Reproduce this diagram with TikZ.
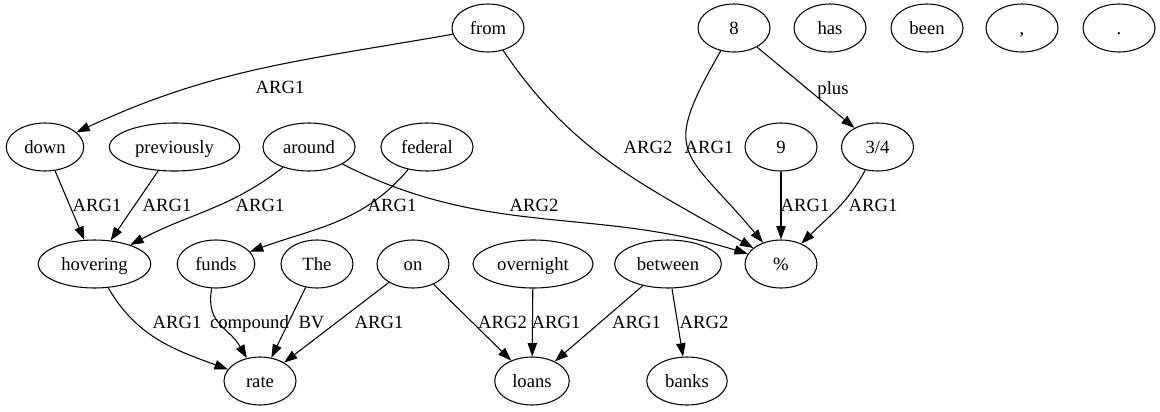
\documentclass[tikz,border=0pt]{standalone}
\usepackage{fontspec}
\setmainfont{Liberation Serif}
\usetikzlibrary{shapes, arrows.meta}

\begin{document}
\begin{tikzpicture}[x=0.75pt, y=0.75pt,
        word/.style={ellipse, draw=black, line width=0.8pt, inner xsep=5pt, minimum width=54pt, minimum height=36pt, text height=11pt, text depth=2pt, font=\fontsize{14}{16}\selectfont},
        lbl/.style={inner sep=0pt, text height=11pt, text depth=2pt, font=\fontsize{14}{16}\selectfont},
        rel/.style={line width=0.8pt, -{Triangle[length=10pt, width=7pt]}}]
            \useasboundingbox (0, 0) rectangle (1160, -411);

            \node[word] (from) at (488, -28) {from};
            \node[word] (eight) at (734, -28) {8};
            \node[word] (has) at (830, -28) {has};
            \node[word] (been) at (927, -28) {been};
            \node[word] (comma) at (1022, -28) {,};
            \node[word] (period) at (1119, -28) {.};
            \node[word] (down) at (45, -147) {down};
            \node[word] (previously) at (174.5, -147) {previously};
            \node[word] (around) at (309, -147) {around};
            \node[word] (federal) at (427, -147) {federal};
            \node[word] (nine) at (781, -147) {9};
            \node[word] (quarter) at (877.5, -147) {3/4};
            \node[word] (hovering) at (94.5, -264) {hovering};
            \node[word] (funds) at (216, -264) {funds};
            \node[word] (the) at (317, -264) {The};
            \node[word] (on) at (413, -264) {on};
            \node[word] (overnight) at (533, -264) {overnight};
            \node[word] (between) at (668, -264) {between};
            \node[word] (pct) at (781, -264) {\%};
            \node[word] (rate) at (260, -381) {rate};
            \node[word] (loans) at (532, -381) {loans};
            \node[word] (banks) at (687, -381) {banks};

            \node[lbl] (e1) at (280, -87) {ARG1};
            \node[lbl] (e2) at (648, -147) {ARG2};
            \node[lbl] (e3) at (709, -147) {ARG1};
            \node[lbl] (e4) at (833, -88) {plus};
            \node[lbl] (e5) at (97, -205) {ARG1};
            \node[lbl] (e6) at (167, -205) {ARG1};
            \node[lbl] (e7) at (260, -205) {ARG1};
            \node[lbl] (e8) at (392, -205) {ARG1};
            \node[lbl] (e9) at (534, -205) {ARG2};
            \node[lbl] (e10) at (805, -205) {ARG1};
            \node[lbl] (e11) at (873, -205) {ARG1};
            \node[lbl] (e12) at (177, -322) {ARG1};
            \node[lbl] (e13) at (249.5, -322) {compound};
            \node[lbl] (e14) at (311.5, -322) {BV};
            \node[lbl] (e15) at (379, -322) {ARG1};
            \node[lbl] (e16) at (502.5, -322) {ARG2};
            \node[lbl] (e17) at (556, -322) {ARG1};
            \node[lbl] (e18) at (636.5, -322) {ARG1};
            \node[lbl] (e19) at (704, -322) {ARG2};

            \draw[rel] (from) to[out=190, in=25] (down);
            \draw[rel] (from) to[out=-56, in=150] (pct);
            \draw[rel] (eight) to[out=-120, in=130, looseness=1.6] (pct);
            \draw[rel] (eight) -- (quarter);
            \draw[rel] (nine) -- (pct);
            \draw[rel] (quarter) to[out=-118, in=45] (pct);
            \draw[rel] (around) to[out=-27, in=163] (pct);
            \draw[rel] (down) -- (hovering);
            \draw[rel] (previously) -- (hovering);
            \draw[rel] (around) to[out=-142, in=28] (hovering);
            \draw[rel] (federal) to[out=-130, in=20] (funds);
            \draw[rel] (hovering) to[out=-60, in=160] (rate);
            \draw[rel] (funds) to[out=-100, in=120, looseness=1.2] (rate);
            \draw[rel] (the) -- (rate);
            \draw[rel] (on) -- (rate);
            \draw[rel] (on) -- (loans);
            \draw[rel] (overnight) -- (loans);
            \draw[rel] (between) -- (loans);
            \draw[rel] (between) -- (banks);
        \end{tikzpicture}
\end{document}
